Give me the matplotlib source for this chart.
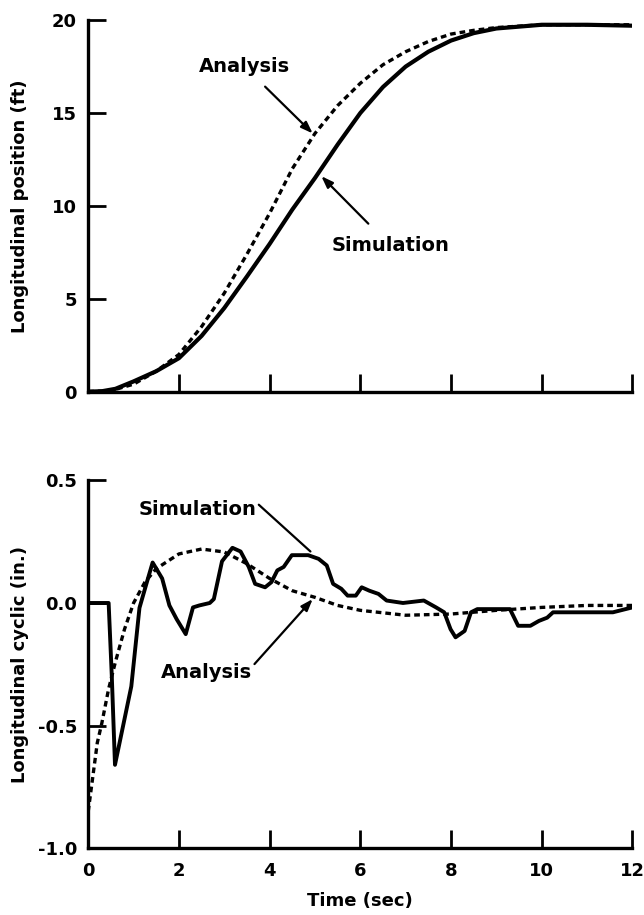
#!/usr/bin/env python3

import matplotlib.pyplot as plt
import numpy as np

plt.rcParams['font.family'] = 'DejaVu Sans'
plt.rcParams['font.weight'] = 'bold'
plt.rcParams['font.size'] = 13

# top panel: longitudinal position (ft)
t_pos_sim = [0, 0.3, 0.6, 1.0, 1.5, 2.0, 2.5, 3.0, 3.5, 4.0, 4.5, 5.0, 5.5, 6.0,
             6.5, 7.0, 7.5, 8.0, 8.5, 9.0, 10.0, 11.0, 12.0]
pos_sim = [0, 0.02, 0.15, 0.55, 1.1, 1.8, 3.0, 4.5, 6.2, 7.95, 9.8, 11.5, 13.3, 15.0,
           16.4, 17.5, 18.3, 18.9, 19.3, 19.55, 19.75, 19.75, 19.7]
t_pos_ana = [0, 0.5, 1.0, 1.5, 2.0, 2.5, 3.0, 3.5, 4.0, 4.5, 5.0, 5.5, 6.0, 6.5,
             7.0, 7.5, 8.0, 8.5, 9.0, 10.0, 11.0, 12.0]
pos_ana = [0, 0.05, 0.4, 1.1, 2.0, 3.5, 5.3, 7.4, 9.6, 12.0, 13.9, 15.4, 16.6, 17.6,
           18.3, 18.85, 19.25, 19.45, 19.6, 19.75, 19.75, 19.75]

# bottom panel: longitudinal cyclic (in.)
t_cyc_sim = [0, 0.45, 0.52, 0.59, 0.77, 0.95, 1.13, 1.27, 1.42, 1.63, 1.79, 1.95, 2.15,
             2.31, 2.45, 2.68, 2.77, 2.95, 3.18, 3.36, 3.54, 3.68, 3.9, 4.04, 4.17,
             4.31, 4.49, 4.85, 5.08, 5.26, 5.4, 5.58, 5.72, 5.9, 6.03, 6.2, 6.4, 6.58,
             6.94, 7.4, 7.67, 7.85, 7.99, 8.1, 8.3, 8.44, 8.58, 8.94, 9.3, 9.48, 9.75,
             9.94, 10.12, 10.25, 10.75, 11.57, 12.0]
cyc_sim = [0, 0, -0.3, -0.66, -0.5, -0.34, -0.02, 0.07, 0.165, 0.1, -0.01, -0.066, -0.127,
           -0.018, -0.01, 0.0, 0.016, 0.17, 0.225, 0.21, 0.147, 0.078, 0.064, 0.085, 0.133,
           0.147, 0.195, 0.195, 0.18, 0.153, 0.078, 0.058, 0.03, 0.03, 0.064, 0.05, 0.037, 0.01,
           0.0, 0.01, -0.018, -0.038, -0.107, -0.14, -0.114, -0.038, -0.025, -0.025, -0.025,
           -0.093, -0.093, -0.073, -0.06, -0.038, -0.038, -0.038, -0.018]
t_cyc_ana = [0, 0.1, 0.2, 0.3, 0.45, 0.6, 0.8, 1.0, 1.25, 1.5, 2.0, 2.5, 3.0, 3.5, 4.0,
             4.5, 5.0, 5.5, 6.0, 7.0, 8.0, 9.0, 10.0, 11.0, 12.0]
cyc_ana = [-0.85, -0.71, -0.57, -0.49, -0.35, -0.24, -0.107, 0.0, 0.085, 0.14, 0.2, 0.22,
           0.208, 0.16, 0.1, 0.05, 0.023, -0.01, -0.03, -0.05, -0.045, -0.03, -0.018, -0.01, -0.01]

dash = (0, (1.7, 1.2))
arrow = dict(arrowstyle='-|>,head_length=0.5,head_width=0.18', color='black', lw=1.6)

fig = plt.figure(figsize=(6.44, 9.15), dpi=100)
ax1 = fig.add_axes([0.137, 0.572, 0.845, 0.406])
ax2 = fig.add_axes([0.137, 0.073, 0.845, 0.402])

for ax in (ax1, ax2):
    for s in ('top', 'right'):
        ax.spines[s].set_visible(False)
    for s in ('left', 'bottom'):
        ax.spines[s].set_linewidth(2.4)
    ax.tick_params(direction='in', length=13, width=2, pad=8)
    ax.set_xlim(0, 12)

ax1.plot(t_pos_sim, pos_sim, color='black', lw=3)
ax1.plot(t_pos_ana, pos_ana, color='black', lw=2.4, ls=dash)
ax1.set_ylim(0, 20)
ax1.set_yticks([0, 5, 10, 15, 20])
ax1.set_xticks([2, 4, 6, 8, 10, 12])
ax1.set_xticklabels([])
ax1.set_ylabel('Longitudinal position (ft)', fontweight='bold')
ax1.yaxis.set_label_coords(-0.108, 0.5)
ax1.annotate('Analysis', xy=(4.95, 13.9), xytext=(3.45, 17.5), ha='center', va='center',
             fontweight='bold', fontsize=14, arrowprops=dict(arrow, shrinkA=8, shrinkB=0))
ax1.annotate('Simulation', xy=(5.14, 11.6), xytext=(6.66, 7.85), ha='center', va='center',
             fontweight='bold', fontsize=14, arrowprops=dict(arrow, shrinkA=10, shrinkB=0))

ax2.plot(t_cyc_sim, cyc_sim, color='black', lw=2.8)
ax2.plot(t_cyc_ana, cyc_ana, color='black', lw=2.4, ls=dash)
ax2.set_ylim(-1.0, 0.5)
ax2.set_yticks([-1.0, -0.5, 0.0, 0.5])
ax2.set_yticklabels(['-1.0', '-0.5', '0.0', '0.5'])
ax2.set_xticks(np.arange(0, 13, 2))
ax2.tick_params(axis='x', pad=10)
ax2.set_ylabel('Longitudinal cyclic (in.)', fontweight='bold')
ax2.yaxis.set_label_coords(-0.108, 0.5)
ax2.set_xlabel('Time (sec)', fontweight='bold')
ax2.xaxis.set_label_coords(0.5, -0.12)
ax2.annotate('Simulation', xy=(4.9, 0.21), xytext=(2.4, 0.38), ha='center', va='center',
             fontweight='bold', fontsize=14,
             arrowprops=dict(arrowstyle='-', color='black', lw=1.6, shrinkA=0, shrinkB=0,
                             relpos=(1.0, 0.9)))
ax2.annotate('Analysis', xy=(4.95, 0.016), xytext=(2.6, -0.285), ha='center', va='center',
             fontweight='bold', fontsize=14,
             arrowprops=dict(arrow, shrinkA=0, shrinkB=0, relpos=(1.0, 0.8)))

plt.savefig('out.png', dpi=100)
